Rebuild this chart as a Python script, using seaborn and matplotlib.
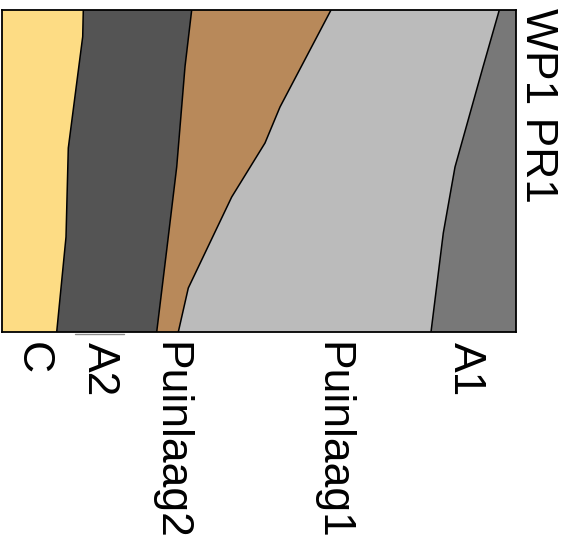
import matplotlib
matplotlib.use("Agg")
import matplotlib.pyplot as plt
import matplotlib.transforms as mtransforms
import seaborn as sns
import pandas as pd

# horizon names (left to right) and fill colours
horizons = ["C", "A2", "Puinlaag2", "Puinlaag1", "A1"]
colors = ["#FDDC84", "#545454", "#B8895A", "#BBBBBB", "#787878"]
profile_name = "WP1 PR1"

# horizon boundaries: depth along the profile at a few lateral positions
# (lateral position 0 = top of the picture, 322 = bottom)
left_pos = [0, 322]
left_depth = [0, 0]
c_a2_pos = [0, 26.7, 138, 227, 322]
c_a2_depth = [81.3, 80.7, 66.3, 64.0, 54.7]
a2_p2_pos = [0, 56.7, 157, 240, 322]
a2_p2_depth = [189.7, 183.0, 174.7, 164.7, 154.7]
p2_p1_pos = [0, 97, 133, 187, 278, 322]
p2_p1_depth = [329.0, 278.0, 263.0, 229.7, 186.3, 176.3]
p1_a1_pos = [0, 57, 157, 223, 322]
p1_a1_depth = [497.3, 481.0, 453.0, 441.3, 429.0]
right_pos = [0, 322]
right_depth = [514, 514]

# where each horizon name is written along the depth axis
label_depth = [30, 97, 168, 330, 463]

boundaries = [
    (left_depth, left_pos),
    (c_a2_depth, c_a2_pos),
    (a2_p2_depth, a2_p2_pos),
    (p2_p1_depth, p2_p1_pos),
    (p1_a1_depth, p1_a1_pos),
    (right_depth, right_pos),
]

sns.set_style("white")
plt.rcParams["font.family"] = ["Liberation Sans", "DejaVu Sans"]

fig = plt.figure(figsize=(5.73, 5.45), dpi=100)
ax = fig.add_axes([2 / 573, 213 / 545, 514 / 573, 322 / 545])

for i, (name, col) in enumerate(zip(horizons, colors)):
    d0, p0 = boundaries[i]
    d1, p1 = boundaries[i + 1]
    xs = list(d0) + list(d1)[::-1]
    ys = list(p0) + list(p1)[::-1]
    ax.fill(xs, ys, color=col, linewidth=0)

# inner boundary lines
for d, p in boundaries[1:-1]:
    df = pd.DataFrame({"depth": d, "pos": p})
    sns.lineplot(data=df, x="depth", y="pos", sort=False, estimator=None,
                 color="black", linewidth=1.1, ax=ax)

# faint mark just under the A2 horizon
ax.plot([73, 122], [324, 324], color="#8a8a8a", linewidth=1, clip_on=False)

ax.set_xlim(0, 514)
ax.set_ylim(322, 0)
ax.set_xticks([])
ax.set_yticks([])
ax.set_xlabel("")
ax.set_ylabel("")
for s in ax.spines.values():
    s.set_color("black")
    s.set_linewidth(1.3)
    s.set_visible(True)

trans = mtransforms.blended_transform_factory(ax.transData, ax.transAxes)
for name, d in zip(horizons, label_depth):
    ax.text(d, -10 / 322, name, transform=trans, rotation=270,
            ha="center", va="top", fontsize=32, color="black")

fig.text(537 / 573, 1 - 8 / 545, profile_name, rotation=270,
         ha="center", va="top", fontsize=32, color="black")

fig.savefig("out.png", dpi=100)
